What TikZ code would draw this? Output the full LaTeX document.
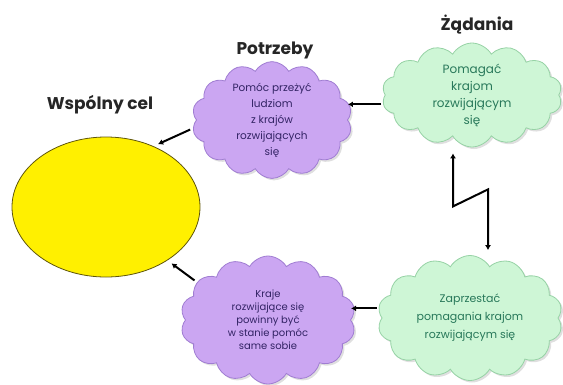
\documentclass[tikz,border=0pt]{standalone}
\usepackage{fontspec}
\setmainfont{Poppins}
\usetikzlibrary{shapes.symbols,shapes.geometric,arrows.meta,shadows}

\definecolor{fioletfill}{RGB}{203,166,242}
\definecolor{fioletdraw}{RGB}{160,125,210}
\definecolor{fiolettext}{RGB}{50,35,100}
\definecolor{zielfill}{RGB}{206,246,214}
\definecolor{zieldraw}{RGB}{150,210,165}
\definecolor{zieltext}{RGB}{40,120,90}
\definecolor{zolty}{RGB}{255,240,0}
\definecolor{zoltydraw}{RGB}{95,85,10}

\begin{document}
\begin{tikzpicture}[x=1pt, y=-1pt,
    chmura/.style={cloud, cloud puffs=14, cloud puff arc=120, cloud ignores aspect,
      line width=0.8pt, inner sep=0pt, align=center,
      drop shadow={opacity=0.25, shadow xshift=2pt, shadow yshift=-2pt}},
    fiolet/.style={chmura, fill=fioletfill, draw=fioletdraw, text=fiolettext},
    ziel/.style={chmura, fill=zielfill, draw=zieldraw, text=zieltext},
    tytul/.style={font=\fontsize{17}{19}\selectfont\bfseries, text=black!85},
    strzalka/.style={line width=2pt, -{Latex[length=5pt,width=6pt]}}]
    \useasboundingbox (0,0) rectangle (563,384);

    % wspólny cel
    \node[tytul] (celtxt) at (100,105) {Wspólny cel};
    \node[ellipse, draw=zoltydraw, fill=zolty, line width=0.8pt,
      minimum width=188pt, minimum height=140pt] (cel) at (106,207) {};

    % chmury
    \node[tytul] (potrztxt) at (275,50) {Potrzeby};
    \node[fiolet, font=\fontsize{10.5}{16}\selectfont,
      minimum width=160pt, minimum height=115pt] (potrz) at (272,120)
      {Pomóc przeżyć\\ludziom\\z krajów\\rozwijających\\się};
    \node[tytul] (zadtxt) at (477,25) {Żądania};
    \node[ziel, font=\fontsize{12}{17}\selectfont,
      minimum width=180pt, minimum height=104pt] (zad) at (472,95)
      {Pomagać\\krajom\\rozwijającym\\się};
    \node[fiolet, font=\fontsize{10}{13}\selectfont,
      minimum width=175pt, minimum height=128pt] (kraje) at (268,320)
      {Kraje\\rozwijające się\\powinny być\\w stanie pomóc\\same sobie};
    \node[ziel, font=\fontsize{11}{18}\selectfont,
      minimum width=185pt, minimum height=125pt] (zap) at (470,318)
      {Zaprzestać\\pomagania krajom\\rozwijającym się};

    % strzałki
    \draw[strzalka, shorten <=2pt] (zad.186) -- (zad.186 -| potrz.east);
    \draw[strzalka, shorten <=2pt] (zap.174) -- (zap.174 -| kraje.east);
    \draw[strzalka, shorten <=3pt, shorten >=5pt] (potrz.186) -- (cel.52);
    \draw[strzalka, shorten <=3pt, shorten >=5pt] (kraje.152) -- (cel.-41);
    \draw[line width=2pt, {Latex[length=5pt,width=6pt]}-{Latex[length=5pt,width=6pt]}]
      ([xshift=-19pt,yshift=-6pt]zad.south) -- ++(0,53) -- ++(35,-17)
      -- ([xshift=18pt,yshift=5pt]zap.north);
\end{tikzpicture}
\end{document}
